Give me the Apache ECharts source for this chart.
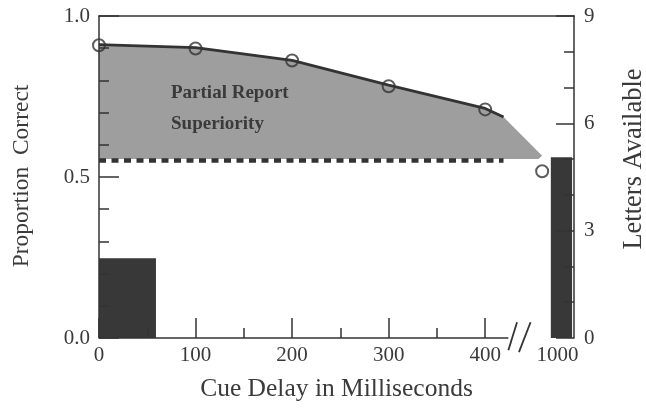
<!DOCTYPE html>
<html>
<head>
<meta charset="utf-8">
<script src="https://cdn.jsdelivr.net/npm/echarts@6/dist/echarts.min.js"></script>
<style>
html,body{margin:0;padding:0;background:#fff;}
#chart{width:646px;height:408px;}
</style>
</head>
<body>
<div id="chart"></div>
<script>
// ---- data ----
const xTickLabels = [0, 100, 200, 300, 400, 1000];
const xLabelPos = [0, 100, 200, 300, 400, 475];      // 1000 ms drawn after the axis break
const xMajorTicks = [0, 100, 200, 300, 400];
const xMinorTicks = [50, 150, 250, 350];

const leftMinorTicks = [0.1, 0.2, 0.3, 0.4, 0.6, 0.7, 0.8, 0.9];
const rightMinorTicks = [1, 2, 4, 5, 7, 8];

const pointPos = [0, 100, 200, 300, 400, 459];        // cue delays (1000 ms after break)
const pointProp = [0.909, 0.899, 0.862, 0.782, 0.710, 0.518];

const fitPos = [0, 100, 200, 300, 400, 419];
const fitProp = [0.911, 0.902, 0.862, 0.785, 0.713, 0.686];
const shadeTip = [459, 0.566];
const wholeReport = 0.551;
const wholeReportEnd = 419;

const barStart = [0, 468];
const barEnd = [59, 490];
const barProp = [0.248, 0.561];

const breakMarks = [[[424, -0.038], [433, 0.049]], [[435, -0.044], [447, 0.049]]];

// ---- chart ----
const ink = '#333';
const txt = '#3a3a3a';
const font = 'Liberation Serif';
const chart = echarts.init(document.getElementById('chart'));

const shadePoly = fitPos.map((x, i) => [x, fitProp[i]])
  .concat([shadeTip, [shadeTip[0] - 4, wholeReport + 0.005], [0, wholeReport + 0.005]]);

const tickStyle = { color: ink, width: 1.5 };
const noLine = { show: false, onZero: false };
const solidLine = { show: true, onZero: false, lineStyle: tickStyle };

chart.setOption({
  animation: false,
  backgroundColor: '#fff',
  grid: { left: 99, right: 72, top: 16, bottom: 70 },
  xAxis: [
    {
      type: 'value', min: 0, max: 492, position: 'bottom', z: 10,
      axisLine: noLine,
      splitLine: { show: false },
      axisTick: { show: true, inside: true, length: 20, customValues: xMajorTicks, lineStyle: tickStyle },
      axisLabel: {
        customValues: xLabelPos, margin: 7,
        formatter: v => String(xTickLabels[xLabelPos.indexOf(v)]),
        fontFamily: font, fontSize: 21, color: txt
      },
      name: 'Cue Delay in Milliseconds', nameLocation: 'middle', nameGap: 38,
      nameTextStyle: { fontFamily: font, fontSize: 25.5, color: txt }
    },
    {
      type: 'value', min: 0, max: 492, position: 'bottom', z: 10,
      axisLine: noLine, splitLine: { show: false },
      axisTick: { show: true, inside: true, length: 10, customValues: xMinorTicks, lineStyle: tickStyle },
      axisLabel: { show: false }
    },
    {
      type: 'value', min: 0, max: 492, position: 'top', z: 10,
      axisLine: solidLine,
      splitLine: { show: false }, axisTick: { show: false }, axisLabel: { show: false }
    }
  ],
  yAxis: [
    {
      type: 'value', min: 0, max: 1, interval: 0.5, position: 'left', z: 10,
      axisLine: solidLine,
      splitLine: { show: false },
      axisTick: { show: true, inside: true, length: 20, lineStyle: tickStyle },
      axisLabel: { margin: 9, formatter: v => v.toFixed(1), fontFamily: font, fontSize: 21, color: txt }
    },
    {
      type: 'value', min: 0, max: 9, interval: 3, position: 'right', z: 10,
      axisLine: solidLine,
      splitLine: { show: false },
      axisTick: { show: true, inside: true, length: 18, lineStyle: tickStyle },
      axisLabel: { margin: 10, fontFamily: font, fontSize: 21, color: txt }
    },
    {
      type: 'value', min: 0, max: 1, position: 'left', z: 10,
      axisLine: noLine, splitLine: { show: false },
      axisTick: { show: true, inside: true, length: 10, customValues: leftMinorTicks, lineStyle: tickStyle },
      axisLabel: { show: false }
    },
    {
      type: 'value', min: 0, max: 9, position: 'right', z: 10,
      axisLine: noLine, splitLine: { show: false },
      axisTick: { show: true, inside: true, length: 10, customValues: rightMinorTicks, lineStyle: tickStyle },
      axisLabel: { show: false }
    }
  ],
  graphic: [
    { type: 'text', left: 171, top: 84, z: 100,
      style: { text: 'Partial Report', font: 'bold 19px "Liberation Serif"', fill: txt } },
    { type: 'text', left: 171, top: 115, z: 100,
      style: { text: 'Superiority', font: 'bold 19px "Liberation Serif"', fill: txt } },
    { type: 'text', x: 22, y: 176, rotation: Math.PI / 2, z: 100,
      style: { text: 'Proportion  Correct', font: '23.5px "Liberation Serif"', fill: txt, align: 'center', verticalAlign: 'middle' } },
    { type: 'text', x: 634, y: 159, rotation: Math.PI / 2, z: 100,
      style: { text: 'Letters Available', font: '26.5px "Liberation Serif"', fill: txt, align: 'center', verticalAlign: 'middle' } }
  ],
  series: [
    {
      type: 'custom', xAxisIndex: 0, yAxisIndex: 0, z: 1,
      data: [0],
      renderItem: (params, api) => ({
        type: 'polygon',
        shape: { points: shadePoly.map(p => api.coord(p)) },
        style: { fill: '#9e9e9e' }
      })
    },
    {
      type: 'line', xAxisIndex: 0, yAxisIndex: 0, z: 3, symbol: 'none',
      data: fitPos.map((x, i) => [x, fitProp[i]]),
      lineStyle: { color: ink, width: 2.8 }
    },
    {
      type: 'line', xAxisIndex: 0, yAxisIndex: 0, z: 3, symbol: 'none',
      data: [[0, wholeReport], [wholeReportEnd, wholeReport]],
      lineStyle: { color: ink, width: 4.5, type: [7, 5.5] }
    },
    {
      type: 'custom', xAxisIndex: 0, yAxisIndex: 0, z: 4,
      data: barStart.map((s, i) => [s, barEnd[i], barProp[i]]),
      renderItem: (params, api) => {
        const p0 = api.coord([api.value(0), api.value(2)]);
        const p1 = api.coord([api.value(1), 0]);
        return { type: 'rect', shape: { x: p0[0], y: p0[1], width: p1[0] - p0[0], height: p1[1] - p0[1] },
                 style: { fill: '#383838' } };
      }
    },
    {
      type: 'line', xAxisIndex: 0, yAxisIndex: 0, z: 5, symbol: 'none', clip: false,
      data: [[0, 0], [424, 0]],
      lineStyle: { color: ink, width: 1.5 }
    },
    ...breakMarks.map(m => ({
      type: 'line', xAxisIndex: 0, yAxisIndex: 0, z: 5, symbol: 'none', clip: false,
      data: m, lineStyle: { color: ink, width: 1.8 }
    })),
    {
      type: 'scatter', xAxisIndex: 0, yAxisIndex: 0, z: 6,
      data: pointPos.map((x, i) => [x, pointProp[i]]),
      symbol: 'circle', symbolSize: 12,
      itemStyle: { color: 'rgba(0,0,0,0)', borderColor: ink, borderWidth: 2 }
    }
  ]
});
</script>
</body>
</html>
